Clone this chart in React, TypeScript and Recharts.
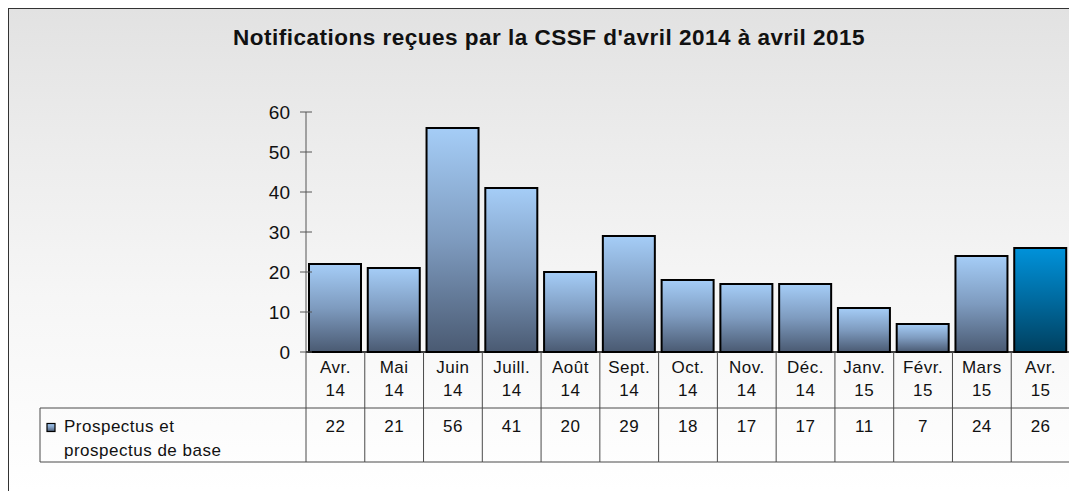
import React from "react";
import { BarChart, Bar, XAxis, YAxis, Cell } from "recharts";

const monthLabels = ["Avr.", "Mai", "Juin", "Juill.", "Août", "Sept.", "Oct.", "Nov.", "Déc.", "Janv.", "Févr.", "Mars", "Avr."];
const yearLabels = ["14", "14", "14", "14", "14", "14", "14", "14", "14", "15", "15", "15", "15"];
const prospectusValues = [22, 21, 56, 41, 20, 29, 18, 17, 17, 11, 7, 24, 26];
const yTicks = [0, 10, 20, 30, 40, 50, 60];
const seriesName = ["Prospectus et", "prospectus de base"];
const title = "Notifications reçues par la CSSF d'avril 2014 à avril 2015";

const data = monthLabels.map((m, i) => ({
  key: `${m} ${yearLabels[i]}`,
  month: m,
  year: yearLabels[i],
  value: prospectusValues[i],
}));

const W = 1069;
const H = 483;
const MARGIN = { top: 104, right: 7, bottom: 19, left: 238 };
const YAXIS_W = 60;
const XAXIS_H = 120;
const PLOT_W = W - MARGIN.left - MARGIN.right - YAXIS_W;
const BAND = PLOT_W / data.length;
const FONT = "Arial, 'Liberation Sans', sans-serif";
const LINE = "#4a4a4a";
const TXT = { fontSize: 17, fontFamily: FONT, fill: "#111", letterSpacing: 0.5 } as const;

const XTick = (props: any) => {
  const { x, y, payload } = props;
  const i = payload.index;
  const d = data[i];
  const left = x - BAND / 2;
  const right = x + BAND / 2;
  return (
    <g>
      <line x1={left} y1={y} x2={left} y2={y + 110} stroke={LINE} strokeWidth={1} />
      {i === data.length - 1 && (
        <line x1={right} y1={y} x2={right} y2={y + 110} stroke={LINE} strokeWidth={1} />
      )}
      <text x={x} y={y + 21} textAnchor="middle" {...TXT}>
        {d.month}
      </text>
      <text x={x} y={y + 44} textAnchor="middle" {...TXT}>
        {d.year}
      </text>
      <text x={x} y={y + 80} textAnchor="middle" {...TXT}>
        {d.value}
      </text>
      {i === 0 && (
        <g>
          <line x1={left - 266} y1={y + 56} x2={left} y2={y + 56} stroke={LINE} strokeWidth={1} />
          <line x1={left - 266} y1={y + 110} x2={left} y2={y + 110} stroke={LINE} strokeWidth={1} />
          <line x1={left - 266} y1={y + 56} x2={left - 266} y2={y + 110} stroke={LINE} strokeWidth={1} />
          <rect x={left - 259} y={y + 71.5} width={8} height={8} fill="url(#barGrad)" stroke="#000" strokeWidth={1.2} />
          <text x={left - 242} y={y + 80} {...TXT}>
            {seriesName[0]}
          </text>
          <text x={left - 242} y={y + 104} {...TXT}>
            {seriesName[1]}
          </text>
        </g>
      )}
      <line x1={left} y1={y + 56} x2={right} y2={y + 56} stroke={LINE} strokeWidth={1} />
      <line x1={left} y1={y + 110} x2={right} y2={y + 110} stroke={LINE} strokeWidth={1} />
    </g>
  );
};

const YTick = (props: any) => {
  const { x, y, payload } = props;
  return (
    <g>
      <line x1={x - 6} y1={y} x2={x + 6} y2={y} stroke="#555" strokeWidth={1} />
      <text x={x - 16} y={y} dy={7} textAnchor="end" fontSize={19} fontFamily={FONT} fill="#111">
        {payload.value}
      </text>
    </g>
  );
};

export default function App() {
  return (
    <div
      style={{
        position: "relative",
        width: W,
        height: H,
        boxSizing: "border-box",
        borderLeft: "1px solid #333",
        borderTop: "1px solid #333",
        background: "linear-gradient(to bottom, #e2e2e2 0%, #ebebeb 25%, #f6f6f6 60%, #ffffff 100%)",
        overflow: "hidden",
      }}
    >
      <style>{"html,body{overflow:hidden}"}</style>
      <svg width={W} height={70} style={{ position: "absolute", left: 0, top: 0 }}>
        <text x={540} y={36} textAnchor="middle" fontSize={22.5} fontWeight="bold" letterSpacing={0.5} fontFamily={FONT} fill="#111">
          {title}
        </text>
      </svg>
      <div style={{ position: "absolute", left: -1, top: -1 }}>
        <BarChart width={W} height={H} data={data} margin={MARGIN} barSize={52}>
          <defs>
            <linearGradient id="barGrad" x1="0" y1="0" x2="0" y2="1">
              <stop offset="0%" stopColor="#a5cdf7" />
              <stop offset="50%" stopColor="#7e9bbf" />
              <stop offset="100%" stopColor="#4a5a72" />
            </linearGradient>
            <linearGradient id="lastGrad" x1="0" y1="0" x2="0" y2="1">
              <stop offset="0%" stopColor="#0092da" />
              <stop offset="50%" stopColor="#006a9f" />
              <stop offset="100%" stopColor="#00405f" />
            </linearGradient>
          </defs>
          <YAxis
            width={YAXIS_W}
            domain={[0, 60]}
            ticks={yTicks}
            interval={0}
            tickSize={0}
            tickMargin={0}
            tickLine={false}
            axisLine={{ stroke: "#555", strokeWidth: 1 }}
            tick={YTick}
          />
          <XAxis
            dataKey="key"
            height={XAXIS_H}
            interval={0}
            tickSize={0}
            tickMargin={0}
            tickLine={false}
            axisLine={{ stroke: "#000", strokeWidth: 1.5 }}
            tick={XTick}
          />
          <Bar dataKey="value" fill="url(#barGrad)" stroke="#000" strokeWidth={2} isAnimationActive={false}>
            {data.map((d, i) => (
              <Cell key={d.key} fill={i === data.length - 1 ? "url(#lastGrad)" : "url(#barGrad)"} />
            ))}
          </Bar>
        </BarChart>
      </div>
    </div>
  );
}
